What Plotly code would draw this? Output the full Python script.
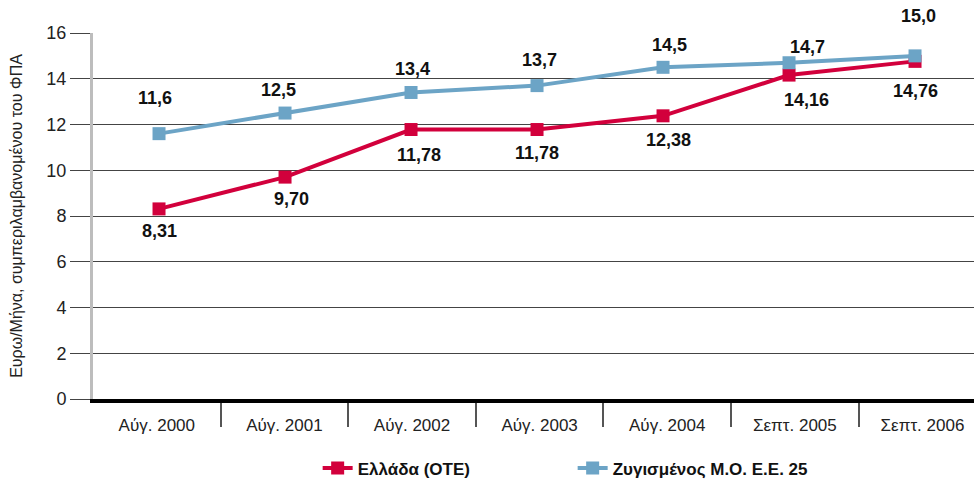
import plotly.graph_objects as go

# Monthly cost (euro, VAT included)
periods = ["Αύγ. 2000", "Αύγ. 2001", "Αύγ. 2002", "Αύγ. 2003",
           "Αύγ. 2004", "Σεπτ. 2005", "Σεπτ. 2006"]
greece = [8.31, 9.70, 11.78, 11.78, 12.38, 14.16, 14.76]
eu25 = [11.6, 12.5, 13.4, 13.7, 14.5, 14.7, 15.0]
greece_labels = ["8,31", "9,70", "11,78", "11,78", "12,38", "14,16", "14,76"]
eu25_labels = ["11,6", "12,5", "13,4", "13,7", "14,5", "14,7", "15,0"]
y_ticks = [0, 2, 4, 6, 8, 10, 12, 14, 16]

RED = "#D2003C"
BLUE = "#6CA4C6"
FONT = "Liberation Sans, Arial, sans-serif"

# pixel offsets of the value labels relative to their markers
greece_dx = [0, 6, 8, 0, 5, 17, 0]
greece_dy = [-22, -22, -25, -23, -24, -25, -30]
eu_dx = [-4, -7, 1, 2, 6, 18, 3]
eu_dy = [36, 23, 23, 26, 22, 16, 40]

idx = list(range(len(periods)))

fig = go.Figure()
# empty trace that anchors the category axis so it is drawn
fig.add_trace(go.Scatter(x=[], y=[], xaxis="x", yaxis="y",
                         showlegend=False, hoverinfo="skip"))
fig.add_trace(go.Scatter(
    x=idx, y=greece, name="Ελλάδα (ΟΤΕ)", xaxis="x2",
    mode="lines+markers",
    line=dict(color=RED, width=4),
    marker=dict(symbol="square", size=13, color=RED),
    cliponaxis=False,
))
fig.add_trace(go.Scatter(
    x=idx, y=eu25, name="Ζυγισμένος Μ.Ο. Ε.Ε. 25", xaxis="x2",
    mode="lines+markers",
    line=dict(color=BLUE, width=4),
    marker=dict(symbol="square", size=13, color=BLUE),
    cliponaxis=False,
))

annotations = []
for i, (v, t) in enumerate(zip(greece, greece_labels)):
    annotations.append(dict(x=i, y=v, xref="x2", yref="y", text="<b>" + t + "</b>",
                            showarrow=False, xshift=greece_dx[i], yshift=greece_dy[i],
                            font=dict(family=FONT, size=18, color="#111"),
                            xanchor="center", yanchor="middle"))
for i, (v, t) in enumerate(zip(eu25, eu25_labels)):
    annotations.append(dict(x=i, y=v, xref="x2", yref="y", text="<b>" + t + "</b>",
                            showarrow=False, xshift=eu_dx[i], yshift=eu_dy[i],
                            font=dict(family=FONT, size=18, color="#111"),
                            xanchor="center", yanchor="middle"))

fig.update_layout(
    width=974, height=482,
    margin=dict(l=93, r=0, t=33, b=83, autoexpand=False),
    paper_bgcolor="white", plot_bgcolor="white",
    font=dict(family=FONT, size=17, color="#111"),
    showlegend=True,
    legend=dict(orientation="h", x=0.255, y=-0.19, xanchor="left", yanchor="middle",
                font=dict(family=FONT, size=17, color="#111", weight="bold"),
                entrywidth=210, entrywidthmode="pixels",
                itemwidth=30, bgcolor="rgba(0,0,0,0)"),
    xaxis=dict(
        range=[-0.5, 6.404],
        tickmode="array", tickvals=idx, ticktext=periods,
        ticks="", showgrid=False, zeroline=False,
        showline=True, linecolor="black", linewidth=4,
        tickfont=dict(family=FONT, size=17, color="#222"),
        ticklabelstandoff=8,
        minor=dict(tickmode="array", tickvals=[i + 0.5 for i in idx[:-1]],
                   ticks="outside", ticklen=24, tickwidth=2, tickcolor="#555",
                   showgrid=False),
        fixedrange=True,
    ),
    xaxis2=dict(
        overlaying="x", range=[-0.524, 6.468], visible=False, fixedrange=True,
    ),
    yaxis=dict(
        range=[0, 16], tickmode="array", tickvals=y_ticks,
        ticks="outside", ticklen=20, tickwidth=1, tickcolor="#444",
        showgrid=True, gridcolor="#444", gridwidth=1,
        zeroline=False,
        showline=True, linecolor="#BDBDBD", linewidth=3,
        tickfont=dict(family=FONT, size=18, color="#222"),
        title=dict(text="Ευρω/Μήνα, συμπεριλαμβανομένου του ΦΠΑ",
                   font=dict(family=FONT, size=16, color="#222"), standoff=20),
        fixedrange=True,
    ),
    annotations=annotations,
)

fig.write_html("out.html")
